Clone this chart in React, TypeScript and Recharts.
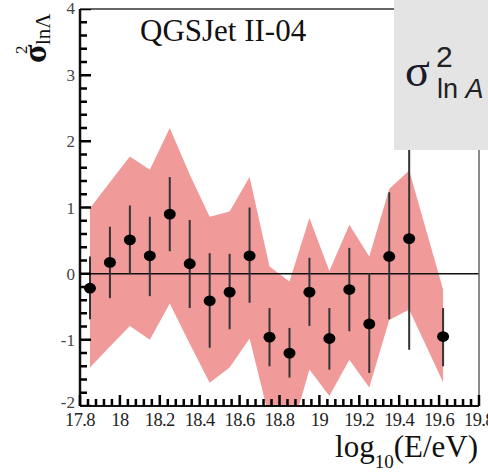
import React from 'react';
import { ComposedChart, Area, Scatter, ErrorBar, XAxis, YAxis, ReferenceLine } from 'recharts';

// systematic band (shaded)
const bandX = [17.85, 17.95, 18.05, 18.15, 18.25, 18.35, 18.45, 18.55, 18.65, 18.75, 18.85, 18.95, 19.05, 19.15, 19.25, 19.35, 19.45, 19.62];
const bandHigh = [0.99, 1.38, 1.77, 1.57, 2.2, 1.5, 0.86, 0.94, 1.46, 0.11, -0.12, 0.84, 0.04, 0.74, 0.26, 1.28, 1.56, -0.24];
const bandLow = [-1.42, -1.1, -0.79, -1.0, -0.45, -1.06, -1.65, -1.42, -0.98, -2.2, -2.5, -1.45, -1.85, -1.3, -1.72, -0.7, -0.54, -1.64];

// data points with statistical errors
const pointX = [17.85, 17.95, 18.05, 18.15, 18.25, 18.35, 18.45, 18.55, 18.65, 18.75, 18.85, 18.95, 19.05, 19.15, 19.25, 19.35, 19.45, 19.62];
const pointY = [-0.22, 0.17, 0.51, 0.27, 0.9, 0.15, -0.41, -0.28, 0.27, -0.96, -1.2, -0.28, -0.98, -0.24, -0.76, 0.26, 0.53, -0.95];
const errHigh = [0.26, 0.71, 1.03, 0.86, 1.46, 0.81, 0.31, 0.3, 1.0, -0.52, -0.82, 0.24, -0.52, 0.39, 0.01, 1.23, 3.5, -0.52];
const errLow = [-0.69, -0.37, 0.0, -0.34, 0.34, -0.52, -1.12, -0.84, -0.44, -1.4, -1.57, -0.79, -1.45, -0.87, -1.5, -0.69, -1.15, -1.4];

const xMajorTicks = [17.8, 18, 18.2, 18.4, 18.6, 18.8, 19, 19.2, 19.4, 19.6, 19.8];
const xTickLabels = ['17.8', '18', '18.2', '18.4', '18.6', '18.8', '19', '19.2', '19.4', '19.6', '19.8'];
const yMajorTicks = [-2, -1, 0, 1, 2, 3, 4];
const yTickLabels = ['-2', '-1', '0', '1', '2', '3', '4'];

const bandData = bandX.map((x, i) => ({ x, range: [bandLow[i], bandHigh[i]] }));
const pointData = pointX.map((x, i) => ({
  x,
  y: pointY[i],
  err: [pointY[i] - errLow[i], errHigh[i] - pointY[i]],
}));

const xMinorTicks: number[] = [];
for (let i = 0; i <= 50; i++) xMinorTicks.push(Math.round((17.8 + i * 0.04) * 100) / 100);
const yMinorTicks: number[] = [];
for (let i = 0; i <= 30; i++) yMinorTicks.push(Math.round((-2 + i * 0.2) * 10) / 10);
const isMajor = (list: number[], v: number) => list.some((t) => Math.abs(t - v) < 1e-6);
const yTickMarks = yMinorTicks.map((v) => ({ x: 17.8, y: v, major: isMajor(yMajorTicks, v) }));

const SERIF = '"Liberation Serif", "DejaVu Serif", serif';
const SANS = '"Liberation Sans", Arial, sans-serif';

const XTick = (props: any) => {
  const { x, y, payload } = props;
  const idx = xMajorTicks.findIndex((t) => Math.abs(t - payload.value) < 1e-6);
  const len = idx >= 0 ? 11 : 7;
  return (
    <g>
      <line x1={x} x2={x} y1={y} y2={y - len} stroke="#000000" strokeWidth={2.5} />
      {idx >= 0 && (
        <text x={x} y={y + 20} textAnchor="middle" fontSize={18.5} letterSpacing={-0.6} fontFamily={SERIF} fill="#222">
          {xTickLabels[idx]}
        </text>
      )}
    </g>
  );
};

const YTick = (props: any) => {
  const { x, y, payload } = props;
  const idx = yMajorTicks.findIndex((t) => Math.abs(t - payload.value) < 1e-6);
  if (idx < 0) return <g />;
  const dy = payload.value === -2 ? 2 : payload.value === 4 ? 5 : 6;
  return (
    <text x={x - 5} y={y + dy} textAnchor="end" fontSize={17} fontFamily={SERIF} fill="#444">
      {yTickLabels[idx]}
    </text>
  );
};

const Dot = (p: any) => <ellipse cx={p.cx} cy={p.cy} rx={6} ry={5.4} fill="#000" />;
const YMark = (p: any) => {
  const len = p.major ? 11 : 7;
  return <line x1={p.cx} x2={p.cx + len} y1={p.cy} y2={p.cy} stroke="#000000" strokeWidth={2.5} />;
};

const abs = (l: number, t: number, w: number, h: number): React.CSSProperties => ({
  position: 'absolute', left: l, top: t, width: w, height: h, pointerEvents: 'none', overflow: 'visible',
});

export default function App() {
  return (
    <div style={{ position: 'absolute', left: 0, top: 0, width: 488, height: 475, overflow: 'hidden', background: '#fff' }}>
      <ComposedChart width={488} height={475} margin={{ top: 9, right: 9, left: 20, bottom: 29 }}>
        <XAxis
          dataKey="x"
          type="number"
          domain={[17.8, 19.8]}
          ticks={xMinorTicks}
          interval={0}
          tickSize={0}
          tickMargin={0}
          tickLine={false}
          tick={<XTick />}
          height={40}
          axisLine={{ stroke: '#111', strokeWidth: 2 }}
        />
        <YAxis
          type="number"
          domain={[-2, 4]}
          allowDataOverflow
          ticks={yMinorTicks}
          interval={0}
          tickSize={0}
          tickMargin={0}
          tickLine={false}
          tick={<YTick />}
          width={60}
          axisLine={{ stroke: '#111', strokeWidth: 2.5 }}
        />
        <Area
          data={bandData}
          dataKey="range"
          type="linear"
          fill="#f09a9a"
          fillOpacity={1}
          stroke="none"
          isAnimationActive={false}
        />
        <ReferenceLine y={0} stroke="#111" strokeWidth={1.5} />
        <ReferenceLine y={4} stroke="#666" strokeWidth={2} />
        <ReferenceLine x={19.8} stroke="#666" strokeWidth={1.5} />
        <Scatter data={yTickMarks} dataKey="y" shape={<YMark />} isAnimationActive={false} />
        <Scatter data={pointData} dataKey="y" fill="#000" shape={<Dot />} isAnimationActive={false}>
          <ErrorBar dataKey="err" direction="y" width={0} stroke="#333" strokeWidth={2} isAnimationActive={false} />
        </Scatter>
      </ComposedChart>

      <svg width={200} height={50} style={abs(130, 5, 200, 50)}>
        <text x={10} y={36} fontSize={31} fontFamily={SERIF} fill="#111">QGSJet II-04</text>
      </svg>

      <svg width={58} height={70} style={abs(0, 0, 58, 70)}>
        <text transform="translate(46,63) rotate(-90)" fontSize={34} fontWeight="bold" fontFamily={SERIF} fill="#111">σ</text>
        <text transform="translate(27,54) rotate(-90)" fontSize={17} fontFamily={SERIF} fill="#111">2</text>
        <text transform="translate(50,45) rotate(-90)" fontSize={21} fontFamily={SERIF} fill="#111">lnΛ</text>
      </svg>

      <svg width={188} height={52} style={abs(300, 423, 188, 52)}>
        <text x={178} y={34} textAnchor="end" fontSize={31} fontFamily={SERIF} fill="#111">
          log<tspan fontSize={19} dy={11}>10</tspan><tspan dy={-11}>(E/eV)</tspan>
        </text>
      </svg>

      <svg width={94} height={150} style={abs(394, 0, 94, 150)}>
        <rect x={0} y={0} width={94} height={150} fill="#e4e4e4" />
        <text x={11} y={86} fontSize={46} fontFamily={SERIF} fill="#1a1a2a">σ</text>
        <text x={42} y={67} fontSize={30} fontFamily={SANS} fill="#222">2</text>
        <text x={43} y={98} fontSize={27} fontFamily={SANS} fill="#222">
          ln <tspan fontStyle="italic">A</tspan>
        </text>
      </svg>
    </div>
  );
}
